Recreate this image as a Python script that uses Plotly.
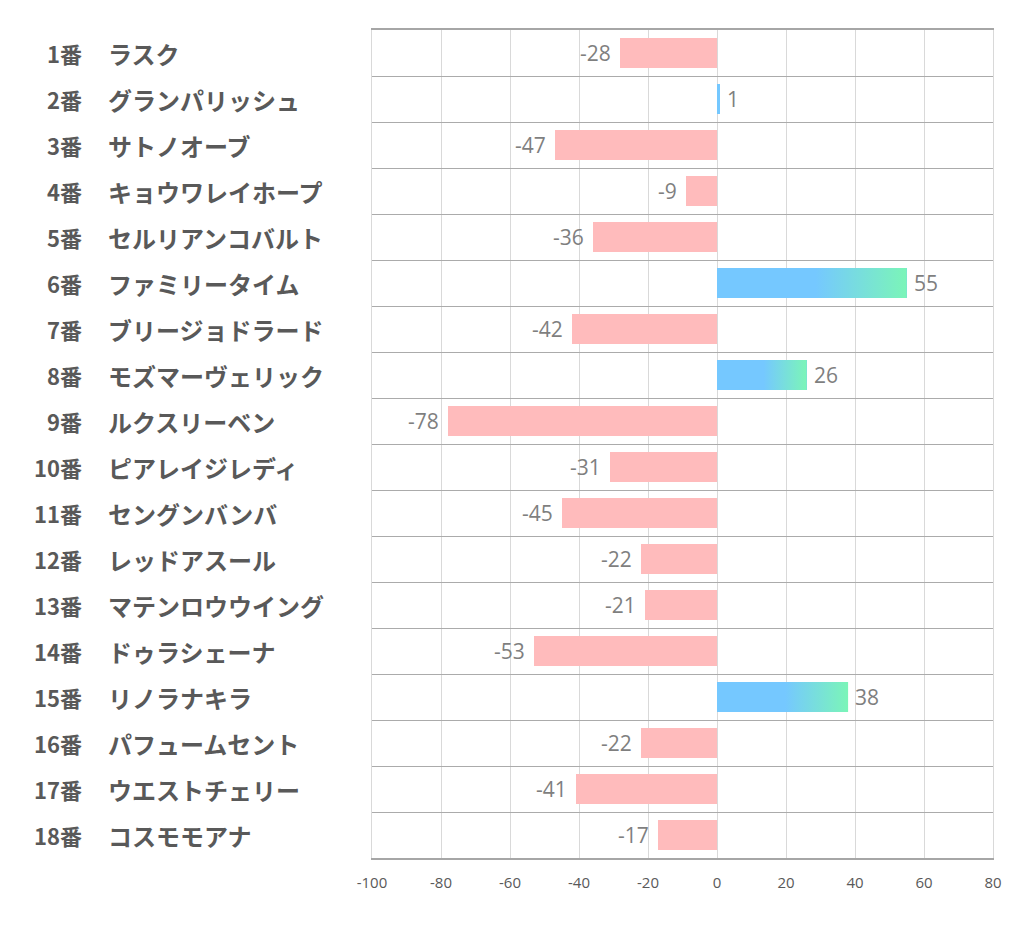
import plotly.graph_objects as go

numbers = ["1番", "2番", "3番", "4番", "5番", "6番", "7番", "8番", "9番", "10番",
           "11番", "12番", "13番", "14番", "15番", "16番", "17番", "18番"]
names = ["ラスク", "グランパリッシュ", "サトノオーブ", "キョウワレイホープ", "セルリアンコバルト",
         "ファミリータイム", "ブリージョドラード", "モズマーヴェリック", "ルクスリーベン",
         "ピアレイジレディ", "セングンバンバ", "レッドアスール", "マテンロウウイング",
         "ドゥラシェーナ", "リノラナキラ", "パフュームセント", "ウエストチェリー", "コスモモアナ"]
values = [-28, 1, -47, -9, -36, 55, -42, 26, -78, -31, -45, -22, -21, -53, 38, -22, -41, -17]
x_ticks = [-100, -80, -60, -40, -20, 0, 20, 40, 60, 80]

PINK = "#FFBBBC"
BLUE = "#75C8FF"
GREEN = "#7BF5B8"
BAR_W = 0.65

ys = list(range(len(values)))

fig = go.Figure()
fig.add_trace(go.Bar(
    x=values, y=ys, orientation="h", width=BAR_W,
    marker=dict(color=[BLUE if v > 0 else PINK for v in values], line=dict(width=0)),
    hoverinfo="skip", showlegend=False,
))

h = BAR_W / 2
for i, v in enumerate(values):
    if v > 1:
        fig.add_trace(go.Scatter(
            x=[0, v, v, 0, 0], y=[i - h, i - h, i + h, i + h, i - h],
            fill="toself", mode="lines", line=dict(width=0),
            fillgradient=dict(type="horizontal",
                              colorscale=[[0, BLUE], [0.52, BLUE], [1, GREEN]]),
            hoverinfo="skip", showlegend=False,
        ))

for i, v in enumerate(values):
    fig.add_annotation(
        x=v, y=i, text=str(v), showarrow=False,
        xanchor="left" if v > 0 else "right",
        xshift=5 if v > 0 else -7,
        font=dict(family="Open Sans, Noto Sans", size=21, color="#7F7F7F"),
    )

# page body has an 8px margin; compensate so plot area lands at x 372-995, y 30-858
OFF = 8
PLOT_L = 372 - OFF
PLOT_T = 30 - OFF
PLOT_W = 623
PLOT_H = 828
FIG_W = 1022 - 2 * OFF
FIG_H = 939 - 2 * OFF

for i, (n, nm) in enumerate(zip(numbers, names)):
    fig.add_annotation(
        xref="paper", x=-289 / PLOT_W, y=i, text=n, showarrow=False,
        xanchor="right",
        font=dict(family="Noto Sans CJK JP", size=22, color="#595959", weight="bold"),
    )
    fig.add_annotation(
        xref="paper", x=-267 / PLOT_W, y=i, text=nm, showarrow=False,
        xanchor="left",
        font=dict(family="Noto Sans CJK JP", size=24, color="#595959", weight="bold"),
    )

fig.update_layout(
    width=FIG_W, height=FIG_H,
    margin=dict(l=PLOT_L, r=FIG_W - PLOT_L - PLOT_W, t=PLOT_T, b=FIG_H - PLOT_T - PLOT_H),
    plot_bgcolor="white", paper_bgcolor="white",
    bargap=0,
    xaxis=dict(
        range=[-100, 80], tickvals=x_ticks, ticktext=[str(t) for t in x_ticks],
        showgrid=True, gridcolor="#D9D9D9", gridwidth=1, zeroline=False,
        showline=True, linecolor="#A6A6A6", linewidth=1.5, mirror=True,
        ticks="", tickfont=dict(family="Open Sans, Noto Sans", size=15, color="#595959"),
        ticklabelstandoff=10,
    ),
    yaxis=dict(
        range=[17.5, -0.5], tick0=0.5, dtick=1, showticklabels=False,
        showgrid=True, gridcolor="#ABABAB", gridwidth=1, zeroline=False,
        showline=True, linecolor="#D9D9D9", linewidth=1, mirror=True, ticks="",
    ),
)

fig.write_html("out.html")
